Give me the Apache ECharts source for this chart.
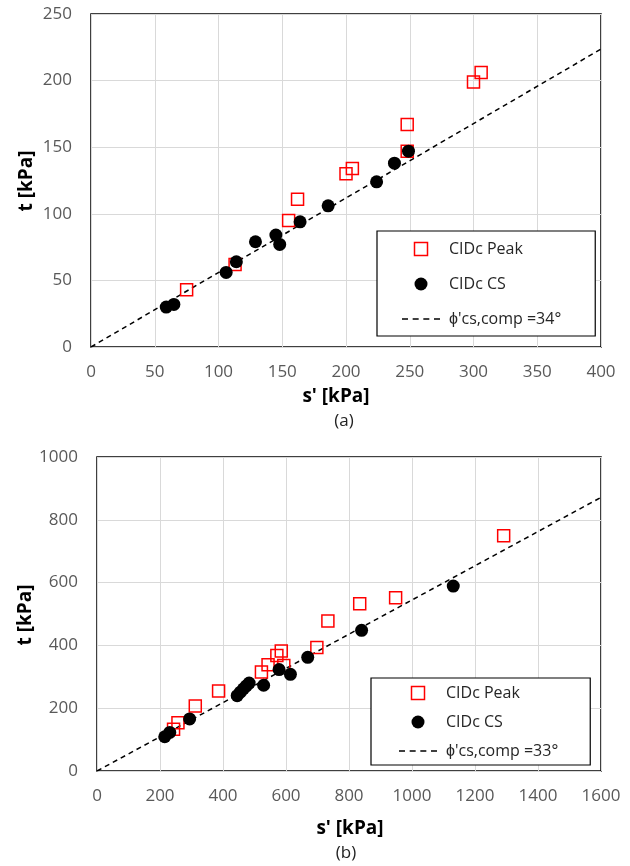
<!DOCTYPE html>
<html><head><meta charset="utf-8">
<script src="https://cdn.jsdelivr.net/npm/echarts@6/dist/echarts.min.js"></script>
<style>html,body{margin:0;padding:0;background:#fff}#c{width:630px;height:866px}</style>
</head><body><div id="c"></div>
<script>
// Chart (a)
const peakA = [[75,43],[113,62],[155,95],[162,111],[200,130],[205,134],[248,167],[248,147],[300,199],[306,206]];
const csA = [[59,30],[65,32],[106,56],[114,64],[129,79],[145,84],[148,77],[164,94],[186,106],[224,124],[238,138],[249,147]];
const phiA = 34, sMaxA = 400;
// Chart (b)
const peakB = [[243,133],[257,154],[312,207],[386,255],[522,315],[543,338],[571,368],[585,382],[593,336],[698,393],[733,478],[834,533],[948,552],[1291,749]];
const csB = [[215,109],[231,123],[294,166],[445,240],[455,251],[465,262],[474,271],[483,280],[529,273],[578,323],[614,308],[669,362],[840,448],[1131,589]];
const phiB = 33, sMaxB = 1600;
const xTicksA = {min:0,max:400,interval:50}, yTicksA = {min:0,max:250,interval:50};
const xTicksB = {min:0,max:1600,interval:200}, yTicksB = {min:0,max:1000,interval:200};

const FONT = "'Open Sans', sans-serif";
const fitLine = (phi, smax) => [[0,0],[smax, smax*Math.sin(phi*Math.PI/180)]];
const nameA = "ϕ'cs,comp =" + phiA + "°", nameB = "ϕ'cs,comp =" + phiB + "°";

const lab = {color:'#595959', fontSize:17, fontFamily:FONT, formatter: v => String(v)};
function xAx(idx, t){return {type:'value', gridIndex:idx, min:t.min, max:t.max, interval:t.interval,
  axisLine:{show:false}, axisTick:{show:false},
  splitLine:{show:true, lineStyle:{color:'#D9D9D9', width:1}},
  axisLabel:Object.assign({margin:17}, lab)};}
function yAx(idx, t){return {type:'value', gridIndex:idx, min:t.min, max:t.max, interval:t.interval,
  axisLine:{show:false}, axisTick:{show:false},
  splitLine:{show:true, lineStyle:{color:'#D9D9D9', width:1}},
  axisLabel:Object.assign({margin:19}, lab)};}
const peakStyle = {color:'rgba(255,255,255,0)', borderColor:'#FF0000', borderWidth:1.5, opacity:1};
const csStyle = {color:'#000', opacity:1};
function series(idx, peak, cs, lname, line){return [
  {name:'CIDc Peak', type:'scatter', xAxisIndex:idx, yAxisIndex:idx, data:peak, symbol:'rect', symbolSize:12, itemStyle:peakStyle, z:3},
  {name:'CIDc CS', type:'scatter', xAxisIndex:idx, yAxisIndex:idx, data:cs, symbol:'circle', symbolSize:13, itemStyle:csStyle, z:4},
  {name:lname, type:'line', xAxisIndex:idx, yAxisIndex:idx, data:line, symbol:'none', lineStyle:{color:'#000', width:1.5, type:[5,4]}, itemStyle:{color:'#000'}, z:2}
];}
const SQ = 'path://M0,0h10v10h-10z';
const DASH = 'path://M0,0h6v1.5h-6zM10.67,0h6v1.5h-6zM21.33,0h6v1.5h-6zM32,0h6v1.5h-6z';
function legend(lname, left, top, gap, pad){return {orient:'vertical', left:left, top:top,
  data:[{name:'CIDc Peak', icon:SQ, itemStyle:peakStyle},
        {name:'CIDc CS', icon:'circle', itemStyle:csStyle},
        {name:lname, icon:DASH, itemStyle:{color:'#000', borderWidth:0, opacity:1}}],
  symbolKeepAspect:true,
  itemWidth:38, itemHeight:13, itemGap:gap, padding:pad, borderColor:'#000', borderWidth:1.2, backgroundColor:'#fff',
  textStyle:{fontSize:16, fontFamily:FONT, color:'#262626', padding:[0,0,0,4]}, selectedMode:false, z:10};}
function txt(x,y,s,opt){return {type:'text', x:x, y:y, style:Object.assign({text:s, fill:'#000', font:'bold 19px '+FONT, align:'center', verticalAlign:'middle'}, opt||{})};}

const chart = echarts.init(document.getElementById('c'), null, {renderer:'canvas'});
chart.setOption({
  animation:false,
  grid:[{left:91, top:14, width:510, height:333, show:true, borderColor:'#000', borderWidth:1.5, containLabel:false},
        {left:97, top:457, width:504, height:314, show:true, borderColor:'#000', borderWidth:1.5, containLabel:false}],
  xAxis:[xAx(0,xTicksA), xAx(1,xTicksB)],
  yAxis:[yAx(0,yTicksA), yAx(1,yTicksB)],
  legend:[legend(nameA, 377, 231, 19, [10,34,9,25]), legend(nameB, 371, 678, 13, [7,32,6,28])],
  series:[...series(0, peakA, csA, nameA, fitLine(phiA, sMaxA)), ...series(1, peakB, csB, nameB, fitLine(phiB, sMaxB))],
  graphic:[
    txt(336, 397, "s' [kPa]"),
    txt(344, 421, "(a)", {font:'17px '+FONT, fill:'#222'}),
    txt(350, 829, "s' [kPa]"),
    txt(346, 853, "(b)", {font:'17px '+FONT, fill:'#222'}),
    Object.assign(txt(0,0,"t [kPa]"), {x:27, y:181, rotation:Math.PI/2}),
    Object.assign(txt(0,0,"t [kPa]"), {x:26, y:615, rotation:Math.PI/2})
  ]
});
</script></body></html>
